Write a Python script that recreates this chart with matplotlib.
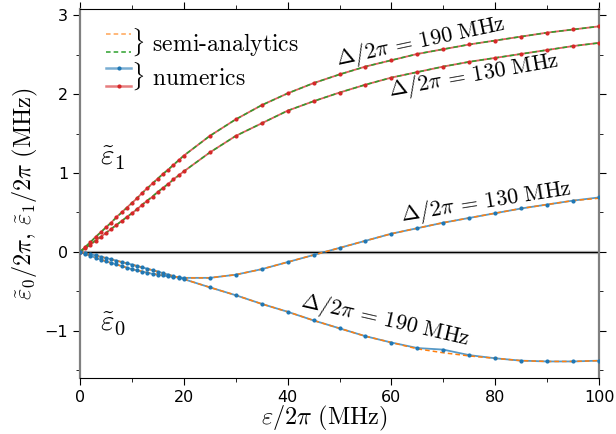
import matplotlib
matplotlib.use('Agg')
import matplotlib.pyplot as plt
from matplotlib.lines import Line2D
from matplotlib.legend_handler import HandlerBase
from matplotlib.ticker import MultipleLocator

plt.rcParams['mathtext.fontset'] = 'cm'

# drive strength grid (MHz): numerics every 1 MHz up to 20, then every 5
eps_num = [0, 1, 2, 3, 4, 5, 6, 7, 8, 9, 10, 11, 12, 13, 14, 15, 16, 17, 18, 19, 20,
           25, 30, 35, 40, 45, 50, 55, 60, 65, 70, 75, 80, 85, 90, 95, 100]
# semi-analytic curves on a 5 MHz grid
eps_semi = [0, 5, 10, 15, 20, 25, 30, 35, 40, 45, 50,
            55, 60, 65, 70, 75, 80, 85, 90, 95, 100]

# numerics, eps1 (red)
num_e1_190 = [0.00, 0.06, 0.12, 0.19, 0.25, 0.31, 0.37, 0.44, 0.50, 0.56, 0.62,
              0.68, 0.75, 0.81, 0.87, 0.93, 0.99, 1.04, 1.10, 1.16, 1.22,
              1.47, 1.68, 1.86, 2.01, 2.14, 2.25, 2.35, 2.43, 2.51, 2.57, 2.63,
              2.68, 2.73, 2.78, 2.82, 2.86]
num_e1_130 = [0.00, 0.045, 0.09, 0.14, 0.19, 0.24, 0.29, 0.34, 0.39, 0.44, 0.49,
              0.54, 0.60, 0.65, 0.70, 0.76, 0.81, 0.86, 0.92, 0.97, 1.02,
              1.26, 1.47, 1.63, 1.79, 1.91, 2.02, 2.12, 2.21, 2.28, 2.35, 2.41,
              2.46, 2.51, 2.56, 2.61, 2.65]
# numerics, eps0 (blue)
num_e0_130 = [0.00, -0.025, -0.05, -0.075, -0.10, -0.12, -0.14, -0.16, -0.18, -0.20, -0.22,
              -0.235, -0.25, -0.265, -0.28, -0.29, -0.30, -0.31, -0.32, -0.325, -0.33,
              -0.33, -0.29, -0.22, -0.13, -0.04, 0.05, 0.14, 0.23, 0.30, 0.37, 0.43,
              0.49, 0.55, 0.60, 0.65, 0.69]
num_e0_190 = [0.00, -0.015, -0.03, -0.046, -0.062, -0.078, -0.094, -0.111, -0.128, -0.145, -0.162,
              -0.179, -0.197, -0.215, -0.233, -0.251, -0.27, -0.289, -0.308, -0.327, -0.346,
              -0.45, -0.55, -0.66, -0.76, -0.87, -0.97, -1.07, -1.15, -1.22, -1.24, -1.31,
              -1.35, -1.38, -1.39, -1.39, -1.38]

# semi-analytics
semi_e1_190 = [0.00, 0.31, 0.62, 0.93, 1.22, 1.47, 1.68, 1.86, 2.01, 2.14, 2.25,
               2.35, 2.43, 2.51, 2.57, 2.63, 2.68, 2.73, 2.78, 2.82, 2.86]
semi_e1_130 = [0.00, 0.24, 0.49, 0.76, 1.02, 1.26, 1.47, 1.63, 1.79, 1.91, 2.02,
               2.12, 2.21, 2.28, 2.35, 2.41, 2.46, 2.51, 2.56, 2.61, 2.65]
semi_e0_130 = [0.00, -0.12, -0.22, -0.29, -0.33, -0.33, -0.29, -0.22, -0.13, -0.04, 0.05,
               0.14, 0.23, 0.30, 0.37, 0.43, 0.49, 0.55, 0.60, 0.65, 0.68]
semi_e0_190 = [0.00, -0.078, -0.162, -0.251, -0.346, -0.45, -0.55, -0.66, -0.76, -0.87, -0.97,
               -1.07, -1.15, -1.23, -1.28, -1.32, -1.35, -1.38, -1.39, -1.39, -1.38]

blue, orange, green, red = '#1f77b4', '#ff7f0e', '#2ca02c', '#d62728'


class StackedHandler(HandlerBase):
    # draws two legend samples on top of each other
    def create_artists(self, legend, orig_handle, xdescent, ydescent,
                       width, height, fontsize, trans):
        artists = []
        yc = height / 2 - ydescent
        for line, dy in zip(orig_handle, [6.5, -6.5]):
            seg = Line2D([-xdescent, width - xdescent], [yc + dy, yc + dy])
            seg.update_from(line)
            seg.set_marker('None')
            seg.set_transform(trans)
            artists.append(seg)
            if line.get_marker() not in ('None', None, ''):
                dot = Line2D([width / 2 - xdescent], [yc + dy])
                dot.update_from(line)
                dot.set_linestyle('None')
                dot.set_alpha(1)
                dot.set_transform(trans)
                artists.append(dot)
        return artists


fig = plt.figure(figsize=(6.16, 4.34), dpi=100)
ax = fig.add_axes([80 / 616, 1 - 378 / 434, 519 / 616, 369 / 434])

ax.axhline(0, color='0.8', lw=2.5, zorder=1)
ax.axhline(0, color='k', lw=1, zorder=1.5)

# numerics: translucent line + dots
for y, c in [(num_e1_190, red), (num_e1_130, red), (num_e0_130, blue), (num_e0_190, blue)]:
    ax.plot(eps_num, y, color=c, lw=1.3, alpha=0.75, zorder=2)
    ax.plot(eps_num, y, color=c, ls='None', marker='o', ms=2, zorder=4)

# semi-analytics: dashed on top
for y, c in [(semi_e1_190, green), (semi_e1_130, green), (semi_e0_130, orange), (semi_e0_190, orange)]:
    ax.plot(eps_semi, y, color=c, lw=1.1, ls=(0, (3, 2)), zorder=3)

h_semi = (Line2D([], [], color=orange, lw=1.1, ls=(0, (3, 2)), alpha=0.7),
          Line2D([], [], color=green, lw=1.1, ls=(0, (3, 2))))
h_num = (Line2D([], [], color=blue, lw=1.8, alpha=0.6, marker='o', ms=2),
         Line2D([], [], color=red, lw=1.8, alpha=0.6, marker='o', ms=2))
ax.legend([h_semi, h_num], [r'$\}$ semi-analytics', r'$\}$ numerics'],
          handler_map={tuple: StackedHandler()}, frameon=False,
          prop={'family': 'cmr10', 'size': 17}, handlelength=1.05,
          handletextpad=0.0, labelspacing=0.1,
          loc='upper left', bbox_to_anchor=(0.01, 1.01))

# curve labels
ax.text(65.7, 2.66, r'$\Delta/2\pi\,=\,190\ \mathrm{MHz}$', fontsize=16,
        rotation=12, ha='center', va='center')
ax.text(75.9, 2.24, r'$\Delta/2\pi\,=\,130\ \mathrm{MHz}$', fontsize=16,
        rotation=10, ha='center', va='center')
ax.text(78.2, 0.63, r'$\Delta/2\pi\,=\,130\ \mathrm{MHz}$', fontsize=16,
        rotation=9, ha='center', va='center')
ax.text(58.8, -0.87, r'$\Delta/2\pi\,=\,190\ \mathrm{MHz}$', fontsize=16,
        rotation=-13, ha='center', va='center')
ax.text(6.4, 1.19, r'$\tilde{\varepsilon}_1$', fontsize=21, ha='center', va='center')
ax.text(6.4, -0.92, r'$\tilde{\varepsilon}_0$', fontsize=21, ha='center', va='center')

ax.set_xlim(0, 100)
ax.set_ylim(-1.6, 3.08)
ax.xaxis.set_major_locator(MultipleLocator(20))
ax.xaxis.set_minor_locator(MultipleLocator(10))
ax.yaxis.set_major_locator(MultipleLocator(1))
ax.yaxis.set_minor_locator(MultipleLocator(0.5))
ax.tick_params(which='both', direction='out', top=True, right=True, labelsize=11.5)
ax.tick_params(which='major', length=5)
ax.tick_params(which='minor', length=3)

for side in ['left', 'right']:
    ax.spines[side].set_color('0.5')
    ax.spines[side].set_linewidth(1.6)

ax.set_xlabel(r'$\varepsilon/2\pi\ (\mathrm{MHz})$', fontsize=17.5)
ax.xaxis.set_label_coords(0.47, -0.07)
ax.set_ylabel(r'$\tilde{\varepsilon}_0/2\pi,\,\tilde{\varepsilon}_1/2\pi\ (\mathrm{MHz})$',
              fontsize=17.5, labelpad=3)

fig.savefig('out.png', dpi=100)
